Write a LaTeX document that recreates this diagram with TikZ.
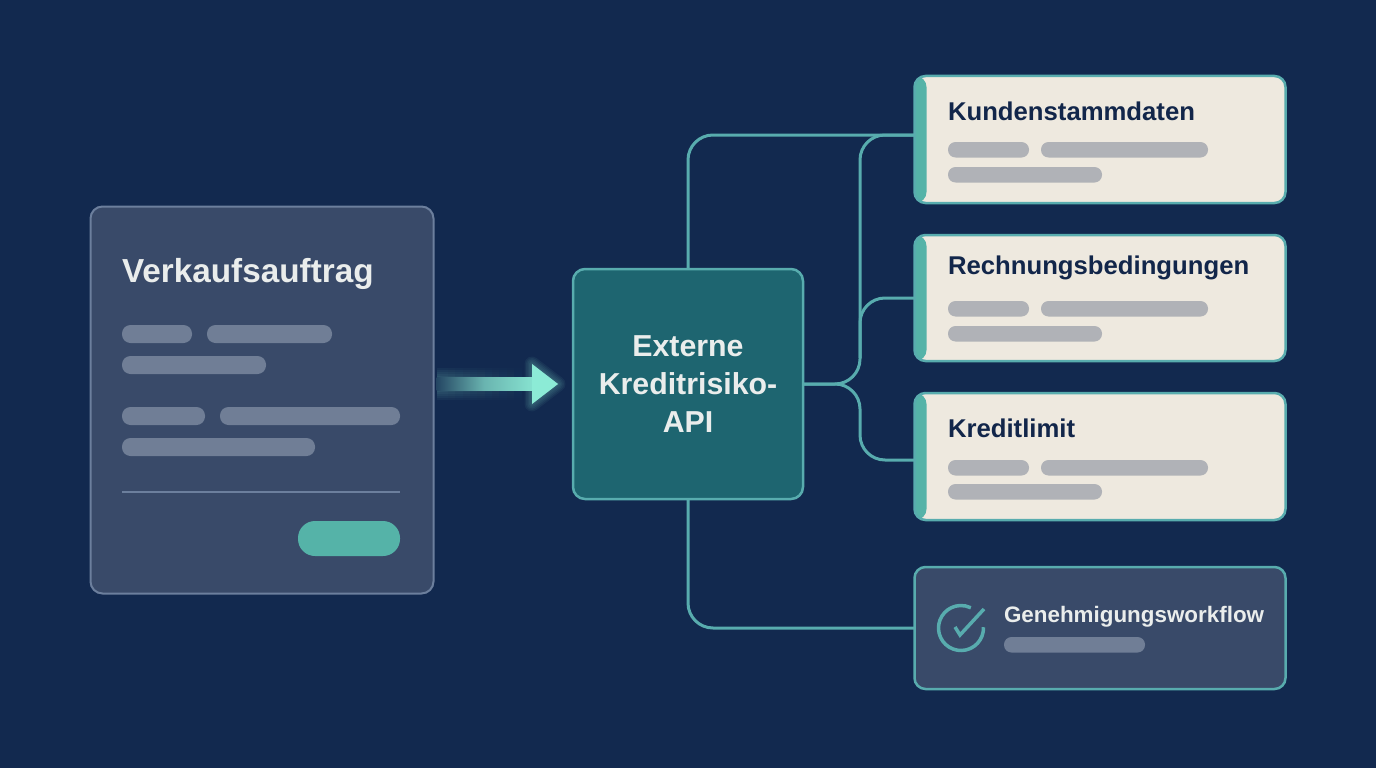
\documentclass[tikz,border=0pt]{standalone}
\usepackage{fontspec}
\setmainfont{Liberation Sans}
\usetikzlibrary{fadings}
\definecolor{pagebg}{HTML}{12294F}
\definecolor{panelbg}{HTML}{394A69}
\definecolor{panelline}{HTML}{6C7F9D}
\definecolor{panelbar}{HTML}{707E96}
\definecolor{apibg}{HTML}{1E6570}
\definecolor{tealline}{HTML}{58ACAE}
\definecolor{tealstrip}{HTML}{55B3A8}
\definecolor{cardbg}{HTML}{EEE9DF}
\definecolor{cardbar}{HTML}{B0B2B7}
\definecolor{inktext}{HTML}{12264A}
\definecolor{softtext}{HTML}{EAEDEC}
\definecolor{flowmint}{HTML}{8CEBD6}
\tikzset{
  every node/.style={inner sep=0pt, outer sep=0pt},
  panel/.style={draw=panelline, fill=panelbg, line width=2pt, rounded corners=12pt, anchor=north west},
  apibox/.style={draw=tealline, fill=apibg, line width=2.5pt, rounded corners=12pt, anchor=north west},
  card/.style={draw=tealline, fill=cardbg, line width=2.5pt, rounded corners=11pt, anchor=north west,
    path picture={\fill[tealstrip] (path picture bounding box.north west) rectangle ([xshift=12pt]path picture bounding box.south west);}},
  wfcard/.style={draw=tealline, fill=panelbg, line width=2.5pt, rounded corners=11pt, anchor=north west},
  bar/.style={rounded corners=7.5pt, anchor=north west, minimum height=15.5pt},
  cardpill/.style={bar, fill=cardbar},
  panelpill/.style={bar, fill=panelbar, rounded corners=8.5pt, minimum height=18pt},
  cardtitle/.style={anchor=west, text=inktext, font=\bfseries\fontsize{25.7}{28}\selectfont},
  link/.style={draw=tealline, line width=3pt, rounded corners=25pt},
}
\begin{document}
\begin{tikzpicture}[x=1pt, y=-1pt]
    \useasboundingbox (0,0) rectangle (1376,768);
    \fill[pagebg] (0,0) rectangle (1376,768);

    % Sales order form
    \node[panel, minimum width=343pt, minimum height=387pt] (form) at (90.5,206.5) {};
    \node[anchor=west, text=softtext, font=\bfseries\fontsize{33.3}{36}\selectfont] (formtitle) at (122,274) {Verkaufsauftrag};
    \node[panelpill, minimum width=70pt] (fa) at (122,325) {};
    \node[panelpill, minimum width=125pt] (fb) at (207,325) {};
    \node[panelpill, minimum width=144pt] (fc) at (122,356) {};
    \node[panelpill, minimum width=83pt] (fd) at (122,407) {};
    \node[panelpill, minimum width=180pt] (fe) at (220,407) {};
    \node[panelpill, minimum width=193pt] (ff) at (122,438) {};
    \coordinate (ruleleft) at (122,491.5);
    \coordinate (ruleright) at (400,491.5);
    \draw[panelline, line width=2pt] (ruleleft) -- (ruleright);
    \node[fill=tealstrip, rounded corners=17pt, anchor=north west, minimum width=102pt, minimum height=35pt] (sendbtn) at (298,521) {};

    % API box
    \node[apibox, minimum width=230pt, minimum height=230pt] (api) at (573,269) {};
    \node[align=center, text=softtext, font=\bfseries\fontsize{30.3}{38}\selectfont] (apitext) at (api.center) {Externe\\Kreditrisiko-\\API};

    % Result cards
    \node[card, minimum width=371pt, minimum height=127pt] (stamm) at (914.5,76) {};
    \node[card, minimum width=371pt, minimum height=126pt] (rechnung) at (914.5,235) {};
    \node[card, minimum width=371pt, minimum height=127pt] (limit) at (914.5,393) {};
    \node[wfcard, minimum width=371pt, minimum height=122pt] (workflow) at (914.5,567) {};

    \node[cardtitle] (stammtitle) at (948,111) {Kundenstammdaten};
    \node[cardtitle] (rechnungtitle) at (948,268) {Rechnungsbedingungen};
    \node[cardtitle] (limittitle) at (948,428) {Kreditlimit};

    \foreach \name/\ya/\yb in {s/142/167, r/301/326, l/460/484} {
        \node[cardpill, minimum width=81pt] (\name a) at (948,\ya) {};
        \node[cardpill, minimum width=167pt] (\name b) at (1041,\ya) {};
        \node[cardpill, minimum width=154pt] (\name c) at (948,\yb) {};
    }

    % Approval card
    \node[anchor=west, text=softtext, font=\bfseries\fontsize{22.4}{25}\selectfont] (wftitle) at (1004,617) {Genehmigungsworkflow};
    \node[bar, fill=panelbar, minimum width=141pt] (wfbar) at (1004,637) {};
    \coordinate (checkmid) at (961,628);
    \draw[tealline, line width=3.5pt] ([shift={(2:22.5pt)}]checkmid) arc[start angle=2, end angle=-296, radius=22.5pt];
    \draw[tealline, line width=3.5pt] (955,627) -- (960,635) -- (984,609);

    % Connectors
    \coordinate (hub) at (860,384);
    \coordinate (hubup) at (860,358);
    \coordinate (stammin) at ([yshift=4.5pt]stamm.west);
    \coordinate (limitin) at ([yshift=-3.5pt]limit.west);
    \draw[link] (api.east) -- (hub) -- (hub |- stammin) -- (stammin);
    \draw[link] (hubup) -- (hub |- rechnung.west) -- (rechnung.west);
    \draw[link] (api.east) -- (hub) -- (hub |- limitin) -- (limitin);
    \draw[link] (api.north) -- (api.north |- stammin) -- (stammin);
    \draw[link] (api.south) -- (api.south |- workflow.west) -- (workflow.west);

    % Glowing arrow
    \coordinate (flowstart) at ([xshift=3pt]form.east |- api.west);
    \coordinate (flowmid) at (532,384);
    \coordinate (flowtip) at (558,384);
    \foreach \w in {8,10,12,14,16} {
        \fill[flowmint, opacity=.05, path fading=east] ([yshift=\w pt]flowstart) rectangle ([yshift=-\w pt]flowmid);
    }
    \foreach \w in {3,6,9,12,15} {
        \draw[flowmint, opacity=.06, line width=\w pt, line join=round, fill] (flowmid |- 0,364) -- (flowtip) -- (flowmid |- 0,404) -- cycle;
    }
    \shade[left color=flowmint!15!pagebg, right color=flowmint!95!pagebg, middle color=flowmint!72!pagebg] ([yshift=6.5pt]flowstart) rectangle ([yshift=-6.5pt]flowmid);
    \fill[flowmint] (flowmid |- 0,364) -- (flowtip) -- (flowmid |- 0,404) -- cycle;
\end{tikzpicture}
\end{document}
